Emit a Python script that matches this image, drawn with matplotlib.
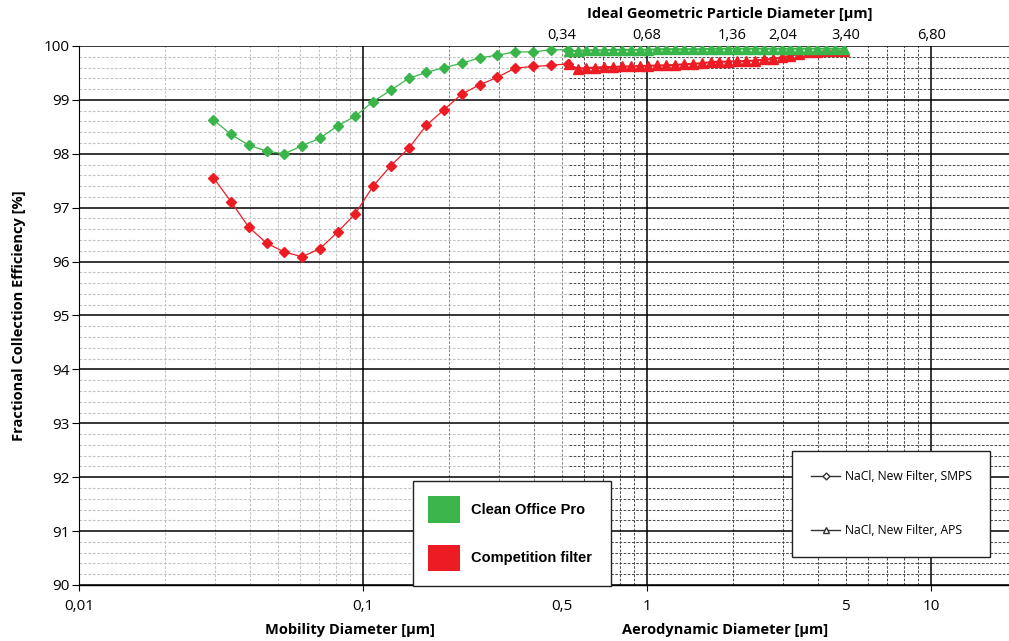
import numpy as np
import matplotlib
matplotlib.use("Agg")
import matplotlib.pyplot as plt
from matplotlib.ticker import FixedLocator, FuncFormatter, MultipleLocator
from matplotlib.patches import Patch
from matplotlib.lines import Line2D

plt.rcParams['font.family'] = ['Open Sans', 'DejaVu Sans']

# SMPS channels (mobility diameter, um)
smps_x = [0.0297, 0.0343, 0.0396, 0.0458, 0.0528, 0.0610, 0.0705, 0.0814, 0.0940,
          0.1085, 0.1253, 0.1447, 0.1671, 0.1930, 0.2228, 0.2573, 0.2972, 0.3432,
          0.3963, 0.4576, 0.5284]
smps_clean = [98.63, 98.36, 98.16, 98.05, 98.00, 98.15, 98.29, 98.52, 98.70, 98.97,
              99.18, 99.40, 99.51, 99.60, 99.68, 99.78, 99.83, 99.89, 99.89, 99.93, 99.93]
smps_comp = [97.56, 97.11, 96.64, 96.34, 96.18, 96.09, 96.24, 96.55, 96.89, 97.40,
             97.78, 98.10, 98.53, 98.82, 99.11, 99.28, 99.42, 99.59, 99.62, 99.64, 99.67]

# APS channels (aerodynamic diameter, um)
aps_x = [0.529, 0.569, 0.611, 0.657, 0.706, 0.759, 0.815, 0.876, 0.941, 1.011,
         1.087, 1.168, 1.255, 1.349, 1.449, 1.557, 1.673, 1.798, 1.932, 2.077,
         2.232, 2.398, 2.577, 2.769, 2.976, 3.198, 3.436, 3.693, 3.968, 4.265,
         4.583, 4.925]
aps_clean = [99.90, 99.91, 99.92, 99.92, 99.92, 99.93, 99.93, 99.93, 99.93, 99.93,
             99.94, 99.94, 99.94, 99.94, 99.94, 99.94, 99.95, 99.95, 99.95, 99.95,
             99.95, 99.95, 99.95, 99.95, 99.95, 99.95, 99.95, 99.95, 99.95, 99.95,
             99.95, 99.95]
aps_comp = [99.66, 99.58, 99.59, 99.60, 99.61, 99.61, 99.62, 99.62, 99.63, 99.63,
            99.64, 99.64, 99.65, 99.66, 99.67, 99.68, 99.70, 99.71, 99.71, 99.72,
            99.72, 99.73, 99.75, 99.76, 99.79, 99.82, 99.85, 99.88, 99.89, 99.90,
            99.90, 99.90]

bottom_ticks = [0.01, 0.1, 0.5, 1, 5, 10]
bottom_labels = ['0,01', '0,1', '0,5', '1', '5', '10']
top_ticks = [0.5, 1, 2, 3, 5, 10]
top_labels = ['0,34', '0,68', '1,36', '2,04', '3,40', '6,80']

green = '#3ab54a'
red = '#ed1c24'
pale = '#c4c4c4'
dark = '#505050'

W, H = 1009, 641
fig = plt.figure(figsize=(W / 100, H / 100), dpi=100)
ax = fig.add_axes([79 / W, 1 - 585 / H, 1 - 79 / W, (585 - 46) / H])

ax.set_xscale('log')
xmin, xmax = 0.01, 18.8
ax.set_xlim(xmin, xmax)
ax.set_ylim(90, 100)

# grid: major solid, minor dashed (pale in the SMPS part, darker in the APS part)
decades = [0.01, 0.1, 1, 10]
minors = [d * m for d in decades for m in range(2, 10)]
ax.xaxis.set_major_locator(FixedLocator(decades))
ax.xaxis.set_minor_locator(FixedLocator(minors))
ax.yaxis.set_major_locator(MultipleLocator(1))
ax.yaxis.set_minor_locator(MultipleLocator(0.2))
ax.grid(which='major', color='black', lw=1.1)
split = aps_x[0]
dash = (0, (2.5, 1.5))
for y in np.arange(90.2, 100, 0.2):
    if abs(y - round(y)) < 1e-6:
        continue
    ax.hlines(y, xmin, split, color=pale, lw=0.8, ls=dash, zorder=0.5)
    ax.hlines(y, split, xmax, color=dark, lw=0.75, ls=dash, zorder=0.5)
for x in minors:
    if x < xmax:
        ax.vlines(x, 90, 100, color=pale if x < 0.15 else ('#8a8a8a' if x < split else dark),
                  lw=0.75, ls=dash, zorder=0.5)
ax.set_axisbelow(True)

labmap = dict(zip(bottom_ticks, bottom_labels))
def fmt(v, pos):
    for k, s in labmap.items():
        if abs(v - k) / k < 1e-6:
            return s
    return ''
ax.xaxis.set_major_formatter(FuncFormatter(fmt))
ax.xaxis.set_minor_formatter(FuncFormatter(fmt))
ax.yaxis.set_major_formatter(FuncFormatter(lambda v, p: '%d' % round(v)))
ax.tick_params(axis='x', which='major', length=4, labelsize=11, pad=6)
ax.tick_params(axis='x', which='minor', length=0, labelsize=11, pad=10)
ax.tick_params(axis='y', which='major', length=5, labelsize=11, pad=2)
ax.tick_params(axis='y', which='minor', length=0)

for s in ['top', 'right']:
    ax.spines[s].set_visible(False)
ax.spines['left'].set_linewidth(0.8)
ax.spines['bottom'].set_linewidth(1.0)

# data
ax.plot(smps_x, smps_clean, color=green, lw=0.9, marker='D', ms=5.5, zorder=4)
ax.plot(smps_x, smps_comp, color=red, lw=0.9, marker='D', ms=5.5, zorder=4)
ax.plot(aps_x, aps_comp, color=red, lw=1.5, marker='^', ms=7, zorder=4)
ax.plot(aps_x, aps_clean, color=green, lw=1.5, marker='^', ms=7, zorder=5)

# top axis
ax2 = ax.twiny()
ax2.set_xscale('log')
ax2.set_xlim(ax.get_xlim())
ax2.set_xticks(top_ticks)
ax2.set_xticks([], minor=True)
ax2.set_xticklabels(top_labels)
ax2.tick_params(axis='x', length=0, labelsize=10.5, pad=2)
for s in ax2.spines.values():
    s.set_visible(False)
ax2.set_xlabel('Ideal Geometric Particle Diameter [µm]', fontsize=10.5,
               fontweight='bold', va='center')
ax2.xaxis.set_label_coords((730 - 79) / 930, 1 + (46 - 14) / 539)

ax.set_ylabel('Fractional Collection Efficiency [%]', fontsize=10.5, fontweight='bold')
ax.yaxis.set_label_coords(-(79 - 26) / 930, 0.5)
fig.text(350 / W, 1 - 630 / H, 'Mobility Diameter [µm]', fontsize=10.5,
         fontweight='bold', ha='center', va='center')
fig.text(725 / W, 1 - 630 / H, 'Aerodynamic Diameter [µm]', fontsize=10.5,
         fontweight='bold', ha='center', va='center')

# legends
eps = 0.005
leg1 = ax.legend(handles=[Patch(facecolor=green, edgecolor='none', label='Clean Office Pro'),
                          Patch(facecolor=red, edgecolor='none', label='Competition filter')],
                 loc='upper left', mode='expand',
                 bbox_to_anchor=(413 / W, 1 - 481 / H - eps, 198 / W, eps),
                 bbox_transform=fig.transFigure,
                 prop={'family': 'Liberation Sans', 'weight': 'bold', 'size': 10.5},
                 handlelength=2.2, handleheight=2.4, labelspacing=1.5,
                 handletextpad=0.75, borderpad=1.05, borderaxespad=0,
                 fancybox=False, framealpha=1, edgecolor='#222222')
leg1.get_frame().set_linewidth(1.0)
ax.add_artist(leg1)

leg2 = ax.legend(handles=[Line2D([], [], color='#333333', lw=1, marker='D', ms=3.5,
                                 mfc='white', mec='#333333', label='NaCl, New Filter, SMPS'),
                          Line2D([], [], color='#333333', lw=1, marker='^', ms=4.5,
                                 mfc='white', mec='#333333', label='NaCl, New Filter, APS')],
                 loc='upper left', mode='expand',
                 bbox_to_anchor=(792 / W, 1 - 451 / H - eps, 198 / W, eps),
                 bbox_transform=fig.transFigure,
                 prop={'size': 8.7}, handlelength=2.4, handletextpad=0.35,
                 labelspacing=3.4, borderpad=1.6, borderaxespad=0,
                 fancybox=False, framealpha=1, edgecolor='#222222')
leg2.get_frame().set_linewidth(1.0)

fig.savefig('out.png', dpi=100, facecolor='white')
